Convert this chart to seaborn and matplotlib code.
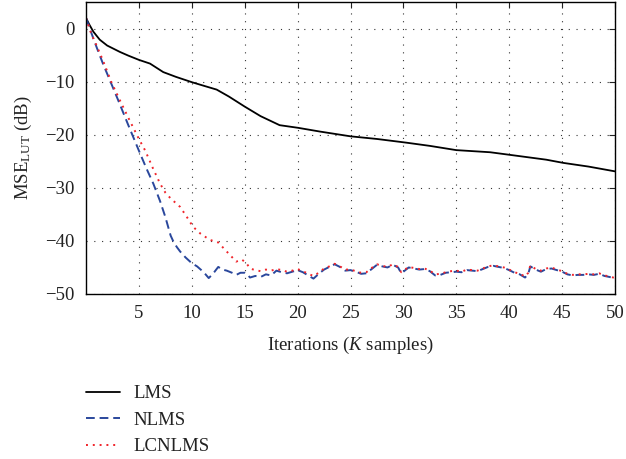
import numpy as np
import pandas as pd
import matplotlib
matplotlib.use("Agg")
import matplotlib.pyplot as plt
import seaborn as sns

# ---- data ----
lms_x = [0, 0.3, 0.7, 1.3, 2, 3.2, 4, 5, 6.05, 7.3, 8.5, 10, 11, 12.35, 13.5, 15,
         16.5, 18.3, 20.05, 22.1, 25, 27.5, 30.3, 32.5, 35, 38.2, 40.1, 43.5, 45.1, 47.5, 50]
lms_y = [2, 0.8, -0.6, -2.1, -3.2, -4.4, -5.1, -5.9, -6.6, -8.2, -9.1, -10.1, -10.7, -11.5, -12.8, -14.7,
         -16.5, -18.2, -18.7, -19.4, -20.3, -20.8, -21.5, -22.1, -22.9, -23.3, -23.8, -24.7, -25.3, -26.0, -26.9]

nlms_x = [0, 0.5, 1.0, 1.6, 2.27, 3, 4, 5, 5.7, 6.36, 7, 7.5, 8.0, 8.3, 8.6, 8.9, 9.4, 10.0, 10.5,
          10.9, 11.3, 11.6, 12.0, 12.5, 12.9, 13.3, 13.8, 14.2, 14.6, 15.0, 15.2,
          15.5, 16, 16.5, 17, 17.5, 18, 18.5, 19, 19.5, 20, 20.5, 21, 21.5, 22, 22.5, 23, 23.5,
          24, 24.5, 25, 25.5, 26, 26.5, 27, 27.5, 28, 28.5, 29, 29.5, 29.8, 30, 30.5, 31, 31.5,
          32, 32.5, 33, 33.5, 34, 34.5, 35, 35.5, 36, 36.5, 37, 37.5, 38, 38.5, 39, 39.5, 40,
          40.5, 41, 41.5, 41.8, 42, 42.5, 43, 43.5, 44, 44.5, 45, 45.5, 46, 46.5, 47, 47.5, 48,
          48.5, 49, 49.5, 50]
nlms_y = [2, -0.8, -3.5, -6.6, -9.8, -13.3, -18.2, -23.0, -26.3, -29.2, -32.5, -35.5, -39.0, -40.3, -41.2, -42.0, -43.1, -44.2, -44.8,
          -45.5, -46.3, -47.0, -46.2, -44.9, -45.4, -45.6, -46.0, -46.4, -46.0, -46.0, -46.2,
          -46.9, -46.6, -46.8, -46.3, -46.5, -45.6, -45.9, -46.1, -45.8, -45.5, -45.9, -46.5, -47.1, -46.2, -45.4, -44.9, -44.4,
          -44.9, -45.6, -45.5, -45.8, -46.2, -46.1, -45.3, -44.5, -44.8, -45.0, -44.5, -45.0, -46.1, -45.8, -45.0, -45.2, -45.4,
          -45.3, -45.7, -46.5, -46.4, -46.0, -45.9, -45.8, -45.9, -45.5, -45.6, -45.7, -45.3, -44.9, -44.7, -44.9, -45.1, -45.5,
          -46.0, -46.3, -46.9, -46.2, -44.8, -45.4, -45.8, -45.3, -45.2, -45.5, -45.8, -46.3, -46.5, -46.4, -46.4, -46.3, -46.4,
          -46.2, -46.6, -46.8, -47.1]

lcnlms_x = [0, 0.5, 1.0, 1.6, 2.4, 3.2, 4, 5, 5.6, 6.3, 7, 7.5, 8, 8.9, 9.7, 10.1, 10.8, 11.7, 12.5,
            13.3, 14.2, 14.7, 15.0, 15.2,
            15.5, 16, 16.5, 17, 17.5, 18, 18.5, 19, 19.5, 20, 20.5, 21, 21.5, 22, 22.5, 23, 23.5,
            24, 24.5, 25, 25.5, 26, 26.5, 27, 27.5, 28, 28.5, 29, 29.5, 29.8, 30, 30.5, 31, 31.5,
            32, 32.5, 33, 33.5, 34, 34.5, 35, 35.5, 36, 36.5, 37, 37.5, 38, 38.5, 39, 39.5, 40,
            40.5, 41, 41.5, 41.8, 42, 42.5, 43, 43.5, 44, 44.5, 45, 45.5, 46, 46.5, 47, 47.5, 48,
            48.5, 49, 49.5, 50]
lcnlms_y = [2, -1.0, -3.2, -6.0, -10.1, -13.5, -16.8, -20.8, -23.0, -26.2, -29.2, -30.9, -32.0, -33.6, -36.0, -37.3, -38.6, -39.8, -40.3,
            -42.0, -43.9, -43.5, -43.9, -44.3,
            -45.2, -45.5, -45.7, -45.4, -45.6, -45.3, -45.5, -45.8, -45.6, -45.3, -45.7, -46.2, -46.6, -46.0, -45.2, -44.8, -44.3,
            -44.8, -45.4, -45.4, -45.7, -46.0, -45.9, -45.1, -44.4, -44.7, -44.9, -44.4, -44.9, -45.9, -45.6, -44.9, -45.1, -45.3,
            -45.2, -45.6, -46.3, -46.2, -45.9, -45.7, -45.6, -45.8, -45.4, -45.5, -45.6, -45.2, -44.8, -44.6, -44.8, -45.0, -45.4,
            -45.9, -46.2, -46.7, -46.0, -44.6, -45.3, -45.6, -45.2, -45.0, -45.4, -45.7, -46.2, -46.4, -46.3, -46.3, -46.2, -46.3,
            -46.1, -46.5, -46.7, -47.0]

x_ticks = [5, 10, 15, 20, 25, 30, 35, 40, 45, 50]
y_ticks = [0, -10, -20, -30, -40, -50]

# ---- styling ----
sns.set_theme(style="white")
plt.rcParams['font.family'] = ['Liberation Serif', 'DejaVu Serif']
plt.rcParams['mathtext.fontset'] = 'custom'
plt.rcParams['mathtext.rm'] = 'Liberation Serif'
plt.rcParams['mathtext.it'] = 'Liberation Serif:italic'
plt.rcParams['axes.unicode_minus'] = True

FS = 13.5
TXT = '#222222'

fig = plt.figure(figsize=(6.26, 4.59), dpi=100)
ax = fig.add_axes([86/626, 1 - 294/459, (615-86)/626, (294-2)/459])

sns.lineplot(x=lms_x, y=lms_y, ax=ax, color='black', lw=1.3, label='LMS',
             estimator=None, sort=False)
sns.lineplot(x=nlms_x, y=nlms_y, ax=ax, color='#2a479c', lw=1.4, label='NLMS',
             estimator=None, sort=False, linestyle=(0, (4.5, 2.5)))
sns.lineplot(x=lcnlms_x, y=lcnlms_y, ax=ax, color='#f0242a', lw=1.4, label='LCNLMS',
             estimator=None, sort=False, linestyle=(0, (1, 2.5)))

ax.set_xlim(0, 50)
ax.set_ylim(-50, 5)
ax.set_xticks(x_ticks)
ax.set_yticks(y_ticks)
ax.tick_params(direction='in', top=True, right=True, length=4, width=0.8,
               labelsize=FS, colors=TXT, pad=8)
for s in ax.spines.values():
    s.set_color('black')
    s.set_linewidth(1.0)
ax.grid(True, color='#333333', linestyle=(0, (1, 6)), linewidth=0.8)

ax.set_xlabel('Iterations ($K$ samples)', fontsize=FS, color=TXT, labelpad=9)
ax.set_ylabel(r'MSE$_{\mathrm{LUT}}$ (dB)', fontsize=FS, color=TXT, labelpad=8)

ax.get_legend().remove()
h, l = ax.get_legend_handles_labels()
fig.legend(h, l, loc='upper left', bbox_to_anchor=(86/626, 1 - 385/459),
           frameon=False, fontsize=FS, handlelength=1.8, handletextpad=0.75,
           labelspacing=0.5, borderpad=0, borderaxespad=0, labelcolor=TXT)

fig.savefig('out.png', dpi=100)
